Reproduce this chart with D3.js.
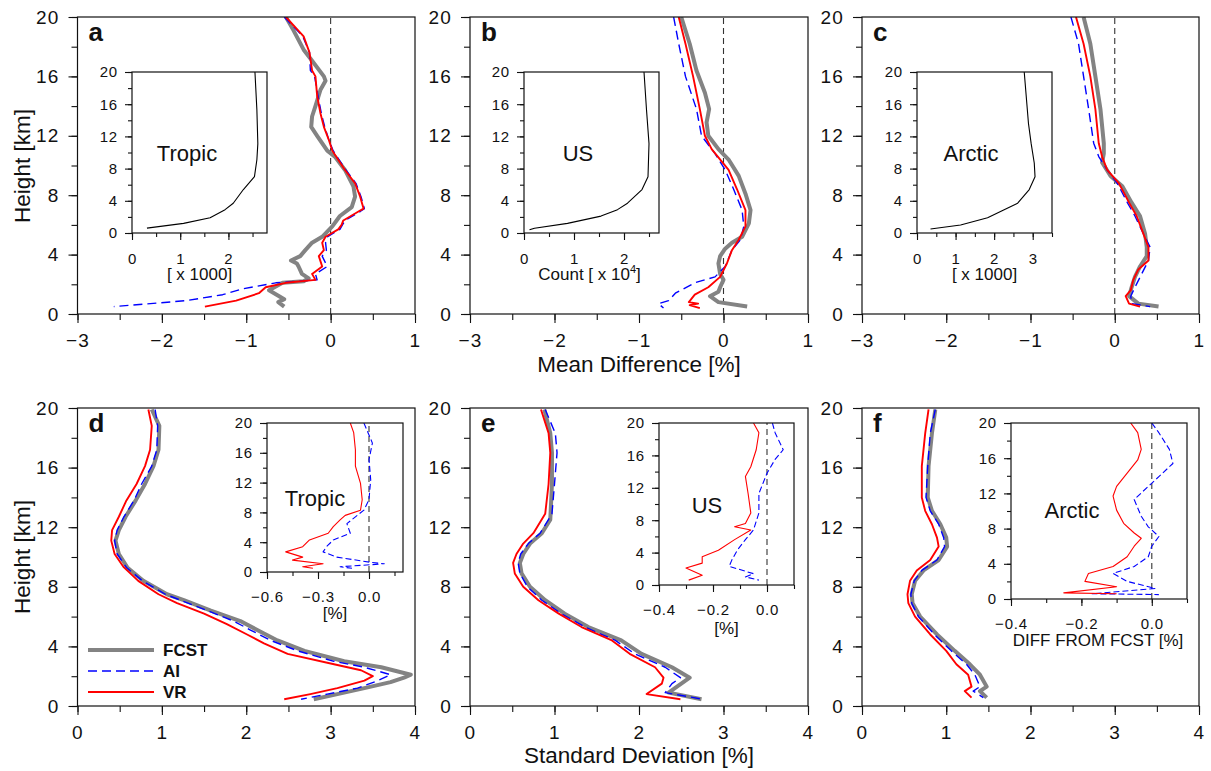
<!DOCTYPE html>
<html><head><meta charset="utf-8">
<script src="https://cdn.jsdelivr.net/npm/d3@7"></script>
<style>body{margin:0;background:#fff}</style>
</head><body><svg id="c" width="1211" height="771"></svg>
<script>
// ---------- DATA: [height km, value] ----------
// Panel a (Tropic, mean difference %)
const aFCST = [[20,-0.53],[19.1,-0.44],[17.8,-0.32],[17.2,-0.24],[16.0,-0.08],[15.7,-0.06],[15.1,-0.12],[14.0,-0.18],[13.3,-0.22],[12.6,-0.23],[12.0,-0.16],[11.0,-0.04],[10.6,0.05],[9.7,0.17],[8.6,0.27],[7.9,0.29],[7.2,0.25],[6.6,0.11],[5.9,0.02],[5.2,-0.10],[4.8,-0.22],[4.3,-0.30],[3.9,-0.36],[3.6,-0.47],[3.4,-0.40],[3.2,-0.38],[2.7,-0.34],[2.4,-0.26],[2.2,-0.32],[2.1,-0.57],[1.6,-0.73],[1.2,-0.61],[1.0,-0.55],[0.8,-0.62],[0.5,-0.55]];
const aAI = [[20,-0.55],[18.7,-0.33],[17.6,-0.25],[16.4,-0.24],[16.0,-0.19],[14.7,-0.15],[13.5,-0.11],[12.6,-0.07],[11.7,-0.02],[11.0,0.03],[9.7,0.18],[8.8,0.30],[7.9,0.36],[7.1,0.40],[6.9,0.35],[6.3,0.17],[6.0,0.14],[5.7,0.11],[5.2,-0.04],[4.8,-0.06],[4.3,-0.05],[3.9,-0.10],[3.2,-0.04],[2.7,-0.18],[2.3,-0.16],[2.1,-0.65],[1.7,-1.04],[1.3,-1.28],[0.9,-1.71],[0.5,-2.57]];
const aVR = [[20,-0.53],[18.7,-0.32],[17.6,-0.25],[16.4,-0.22],[16.0,-0.18],[14.7,-0.16],[13.5,-0.12],[12.6,-0.08],[11.7,-0.02],[11.0,0.02],[9.7,0.17],[8.8,0.29],[7.9,0.35],[7.1,0.39],[6.9,0.33],[6.3,0.15],[6.0,0.13],[5.7,0.09],[5.2,-0.06],[4.8,-0.10],[4.3,-0.08],[3.9,-0.14],[3.2,-0.10],[2.7,-0.22],[2.3,-0.18],[2.1,-0.53],[1.8,-0.77],[1.4,-0.85],[0.9,-1.12],[0.5,-1.49]];
// Panel b (US, mean difference %)
const bFCST = [[20,-0.50],[18.2,-0.40],[16.4,-0.32],[14.9,-0.22],[13.8,-0.17],[12.9,-0.20],[12.0,-0.18],[11.1,-0.06],[10.4,0.06],[9.3,0.18],[8.1,0.26],[7.0,0.32],[6.1,0.30],[5.2,0.22],[4.8,0.10],[4.4,0.02],[3.9,-0.04],[3.4,-0.06],[2.7,-0.04],[2.3,0.0],[1.8,-0.04],[1.5,-0.06],[1.2,-0.16],[0.8,-0.06],[0.5,0.28]];
const bAI = [[20,-0.59],[18.2,-0.53],[16,-0.45],[13.8,-0.32],[12,-0.26],[10.8,-0.10],[9.7,0.02],[8.4,0.12],[7.0,0.22],[5.9,0.24],[5.0,0.20],[4.3,0.10],[3.2,0.02],[2.5,-0.10],[2.1,-0.34],[1.4,-0.57],[0.9,-0.65],[0.7,-0.77],[0.4,-0.71]];
const bVR = [[20,-0.53],[18.2,-0.45],[16,-0.36],[13.8,-0.28],[12,-0.22],[11.1,-0.14],[9.7,0.06],[8.4,0.16],[7.0,0.26],[5.9,0.26],[5.0,0.18],[4.3,0.10],[3.4,0.04],[2.5,-0.04],[1.8,-0.18],[1.3,-0.34],[0.8,-0.41],[0.7,-0.30],[0.6,-0.40],[0.4,-0.28]];
// Panel c (Arctic, mean difference %)
const cFCST = [[20,-0.37],[18.2,-0.29],[16,-0.23],[13.8,-0.17],[11.5,-0.13],[10.8,-0.13],[10.2,-0.15],[9.3,-0.05],[8.6,0.09],[7.5,0.20],[6.6,0.30],[5.4,0.36],[4.5,0.38],[3.9,0.38],[3.2,0.30],[2.5,0.24],[1.8,0.20],[1.2,0.17],[0.7,0.28],[0.5,0.52]];
const cAI = [[20,-0.52],[18.2,-0.43],[16,-0.37],[13.8,-0.31],[11.5,-0.25],[10.6,-0.19],[9.7,-0.09],[8.8,0.03],[7.5,0.15],[6.6,0.24],[5.4,0.34],[4.5,0.42],[3.6,0.40],[2.7,0.32],[1.8,0.24],[1.2,0.19],[0.7,0.20],[0.5,0.42]];
const cVR = [[20,-0.46],[18.2,-0.37],[16,-0.29],[13.8,-0.23],[11.5,-0.19],[10.6,-0.15],[9.7,-0.09],[8.8,0.05],[7.5,0.17],[6.6,0.26],[5.4,0.34],[4.5,0.40],[3.6,0.40],[3.0,0.28],[2.3,0.22],[1.6,0.19],[1.2,0.13],[0.7,0.17],[0.5,0.30]];
// Observation counts (insets a-c)
const aCount = [[20,2.55],[15.3,2.59],[11.1,2.61],[9.1,2.59],[7,2.54],[5.4,2.31],[3.7,2.10],[2.9,1.93],[1.9,1.62],[1.2,1.07],[0.6,0.31]];
const bCount = [[20,2.40],[15.3,2.45],[11.1,2.50],[7,2.48],[5.4,2.36],[3.7,2.07],[2.9,1.87],[2.1,1.54],[1.2,0.87],[0.6,0.21],[0.4,0.11]];
const cCount = [[20,2.78],[13.6,2.89],[11.1,2.96],[8.7,3.04],[7,3.06],[5.4,2.91],[3.7,2.61],[2.9,2.26],[1.9,1.83],[1.0,1.13],[0.5,0.35]];
// Panel d (Tropic, standard deviation %)
const dFCST = [[19.9,0.88],[18.8,0.97],[17.2,0.96],[16.1,0.90],[14.9,0.80],[13.8,0.69],[12.7,0.57],[11.8,0.49],[11.1,0.45],[10.2,0.49],[9.3,0.59],[8.4,0.78],[7.5,1.06],[7.1,1.26],[6.4,1.58],[5.7,1.93],[5.1,2.13],[4.4,2.37],[3.7,2.69],[3.0,3.16],[2.6,3.60],[2.1,3.95],[1.9,3.87],[1.6,3.71],[1.2,3.40],[0.8,3.08],[0.45,2.80]];
const dAI = [[19.9,0.92],[18.8,0.95],[17.2,0.94],[16.1,0.88],[14.9,0.76],[13.8,0.67],[12.7,0.55],[11.8,0.47],[11.1,0.44],[10.2,0.47],[9.3,0.58],[8.4,0.77],[7.5,1.04],[6.4,1.54],[5.7,1.85],[5.1,2.05],[4.4,2.29],[3.7,2.61],[3.0,3.04],[2.6,3.40],[2.1,3.71],[1.7,3.56],[1.2,3.32],[0.8,2.96],[0.45,2.65]];
const dVR = [[19.9,0.84],[18.8,0.88],[17.2,0.86],[16.1,0.80],[14.9,0.70],[13.8,0.58],[12.7,0.49],[11.8,0.41],[11.1,0.40],[10.2,0.44],[9.3,0.55],[8.4,0.72],[7.5,0.96],[6.9,1.18],[6.2,1.50],[5.5,1.77],[4.8,2.01],[4.2,2.21],[3.5,2.49],[2.8,3.04],[2.4,3.36],[2.0,3.50],[1.7,3.40],[1.2,3.08],[0.8,2.76],[0.45,2.45]];
// Panel e (US, standard deviation %)
const eFCST = [[19.9,0.88],[18.3,0.95],[17.0,0.97],[14.9,0.97],[12.5,0.95],[11.6,0.85],[10.9,0.71],[10.2,0.63],[9.6,0.59],[8.9,0.61],[8.0,0.71],[7.1,0.89],[6.2,1.12],[5.3,1.40],[4.4,1.79],[3.5,2.03],[2.6,2.39],[1.9,2.60],[1.5,2.50],[0.9,2.35],[0.45,2.74]];
const eAI = [[19.9,0.89],[18.3,1.01],[17.0,1.03],[14.9,1.00],[12.9,0.97],[11.6,0.83],[10.9,0.69],[10.2,0.60],[9.6,0.57],[8.9,0.59],[8.0,0.68],[7.1,0.85],[6.2,1.08],[5.3,1.36],[4.4,1.72],[3.5,1.95],[2.6,2.31],[1.9,2.49],[1.5,2.39],[0.9,2.31],[0.45,2.76]];
const eVR = [[19.9,0.84],[18.3,0.93],[17.0,0.95],[14.9,0.93],[12.9,0.89],[11.6,0.75],[10.9,0.63],[10.2,0.55],[9.6,0.51],[8.9,0.53],[8.0,0.63],[7.1,0.81],[6.2,1.05],[5.3,1.32],[4.4,1.68],[3.5,1.89],[2.6,2.19],[1.9,2.29],[1.5,2.27],[0.8,2.09],[0.45,2.49]];
// Panel f (Arctic, standard deviation %)
const fFCST = [[19.9,0.87],[18.3,0.83],[16.1,0.79],[14.0,0.78],[13.1,0.83],[12.2,0.93],[11.3,1.00],[10.7,1.01],[9.8,0.91],[9.1,0.73],[8.4,0.63],[7.5,0.59],[6.9,0.60],[6.0,0.69],[4.8,0.89],[3.7,1.10],[2.8,1.28],[2.1,1.40],[1.3,1.48],[1.0,1.40],[0.56,1.48]];
const fAI = [[19.9,0.87],[18.3,0.81],[16.1,0.78],[14.0,0.76],[13.1,0.81],[12.2,0.91],[11.3,0.97],[10.7,0.98],[9.8,0.89],[9.1,0.71],[8.4,0.62],[7.5,0.58],[6.9,0.59],[6.0,0.67],[4.8,0.86],[3.7,1.06],[2.8,1.24],[2.1,1.34],[1.3,1.40],[1.0,1.32],[0.56,1.44]];
const fVR = [[19.9,0.79],[18.3,0.75],[16.1,0.71],[14.0,0.71],[13.1,0.75],[12.2,0.83],[11.3,0.89],[10.7,0.91],[9.8,0.81],[9.1,0.65],[8.4,0.57],[7.5,0.54],[6.9,0.55],[6.0,0.63],[4.8,0.81],[3.7,1.00],[2.8,1.12],[2.1,1.26],[1.3,1.30],[1.0,1.22],[0.56,1.30]];
// Std-dev difference from FCST (insets d-f)
const dDiffVR = [[20,-0.11],[18.7,-0.09],[16.4,-0.08],[14.2,-0.08],[11.9,-0.05],[9.7,-0.04],[8.3,-0.05],[7.6,-0.14],[7.0,-0.17],[6.1,-0.21],[5.2,-0.24],[4.3,-0.35],[3.4,-0.39],[2.7,-0.49],[2.0,-0.39],[1.6,-0.45],[1.1,-0.27],[0.7,-0.39],[0.5,-0.33]];
const dDiffAI = [[20,-0.03],[17.3,0.02],[15.1,0.0],[12.4,0.01],[9.7,0.0],[8.3,-0.03],[7.4,-0.08],[6.5,-0.13],[5.2,-0.11],[4.3,-0.21],[3.4,-0.25],[2.7,-0.27],[2.0,-0.19],[1.3,0.01],[1.1,0.09],[0.7,-0.17],[0.5,-0.10]];
const eDiffVR = [[20,-0.05],[18.8,-0.03],[16.7,-0.04],[14.6,-0.06],[13.4,-0.08],[11.3,-0.07],[8.9,-0.06],[7.6,-0.08],[7.2,-0.12],[6.8,-0.06],[5.6,-0.12],[4.3,-0.18],[3.5,-0.24],[2.7,-0.24],[2.1,-0.30],[1.2,-0.24],[0.6,-0.29]];
const eDiffAI = [[20,0.02],[18.8,0.03],[16.7,0.06],[15.5,0.03],[13.8,0.0],[11.3,-0.03],[8.9,-0.03],[6.8,-0.05],[5.6,-0.08],[4.3,-0.11],[3.1,-0.13],[2.3,-0.14],[1.4,-0.05],[1.0,-0.08],[0.6,-0.03]];
const fDiffVR = [[20,-0.06],[18.9,-0.04],[17,-0.03],[15.8,-0.04],[14.3,-0.07],[12.8,-0.10],[11.7,-0.11],[10.1,-0.10],[8.6,-0.08],[7.5,-0.05],[6.9,-0.03],[6.0,-0.05],[4.8,-0.07],[3.7,-0.11],[2.9,-0.18],[2.0,-0.19],[1.4,-0.10],[0.7,-0.25],[0.6,-0.10]];
const fDiffAI = [[20,0.0],[18.9,0.02],[17,0.05],[15.4,0.06],[13.9,0.02],[12.8,-0.01],[11.3,-0.05],[9.4,-0.03],[8.2,-0.01],[7.1,0.02],[6.0,0.0],[4.8,-0.01],[3.7,-0.05],[2.9,-0.11],[2.0,-0.07],[1.2,0.01],[0.6,-0.17],[0.5,0.02]];
// Labels / ticks
const panelLetters = ["a","b","c","d","e","f"];
const regions = ["Tropic","US","Arctic"];
const legendNames = ["FCST","AI","VR"];
const hTicksMajor = [0,4,8,12,16,20];
const meanTicks = [-3,-2,-1,0,1];
const sdTicks = [0,1,2,3,4];

// ---------- DRAWING ----------
const F = '"Liberation Sans", Arial, Helvetica, sans-serif';
const svg = d3.select("#c");
const styles = {
  FCST:{stroke:"#838383", w:4, dash:null},
  AI:{stroke:"#0000ff", w:1.4, dash:"9,5"},
  VR:{stroke:"#ff0000", w:1.9, dash:null}
};
let clipId = 0;

function axes(g, x, y, o){
  const [x0,x1] = x.range(), [y1,y0] = y.range();
  const strip = s => s.select(".domain").remove();
  const fix = s => s.attr("font-family", F).attr("font-size", o.fs).attr("letter-spacing", o.ls);
  g.append("g").attr("transform",`translate(0,${y1})`)
    .call(d3.axisBottom(x).tickValues(o.xMinor).tickSize(o.tMin).tickFormat("")).call(strip);
  g.append("g").attr("transform",`translate(0,${y1})`)
    .call(d3.axisBottom(x).tickValues(o.xMajor).tickSize(o.tMaj).tickPadding(o.xpad).tickFormat(o.fmtX)).call(strip).call(fix);
  g.append("g").attr("transform",`translate(${x0},0)`)
    .call(d3.axisLeft(y).tickValues(d3.range(0,20.01,2)).tickSize(o.tMin).tickFormat("")).call(strip);
  g.append("g").attr("transform",`translate(${x0},0)`)
    .call(d3.axisLeft(y).tickValues(hTicksMajor).tickSize(o.tMaj).tickPadding(o.ypad).tickFormat(d3.format("d"))).call(strip).call(fix);
  g.selectAll(".tick line").attr("stroke","#111").attr("stroke-width",1.1);
  g.selectAll(".tick text").attr("fill","#111");
  g.append("rect").attr("x",x0).attr("y",y0).attr("width",x1-x0).attr("height",y1-y0)
    .attr("fill","none").attr("stroke","#111").attr("stroke-width",1.2);
}

function clipFor(g, x, y){
  const id = "clip"+(clipId++);
  const [x0,x1] = x.range(), [y1,y0] = y.range();
  g.append("clipPath").attr("id",id).append("rect").attr("x",x0).attr("y",y0).attr("width",x1-x0).attr("height",y1-y0);
  return g.append("g").attr("clip-path",`url(#${id})`);
}

function drawSeries(layer, x, y, data, st){
  const line = d3.line().x(d=>x(d[1])).y(d=>y(d[0]));
  layer.append("path").datum(data).attr("d",line).attr("fill","none")
    .attr("stroke",st.stroke).attr("stroke-width",st.w).attr("stroke-linejoin","round")
    .attr("stroke-dasharray",st.dash);
}

function zeroLine(layer, x, y){
  layer.append("line").attr("x1",x(0)).attr("x2",x(0)).attr("y1",y(0)).attr("y2",y(20))
    .attr("stroke","#333").attr("stroke-width",1.1).attr("stroke-dasharray","6,4");
}

const mainPanels = [
  {x:[77.5,415], y:[17,314], dom:[-3,1], ticks:meanTicks, s:[aFCST,aAI,aVR], zero:true},
  {x:[470,808], y:[17,314], dom:[-3,1], ticks:meanTicks, s:[bFCST,bAI,bVR], zero:true},
  {x:[862,1199], y:[17,314], dom:[-3,1], ticks:meanTicks, s:[cFCST,cAI,cVR], zero:true},
  {x:[77.5,415], y:[408,706], dom:[0,4], ticks:sdTicks, s:[dFCST,dAI,dVR], zero:false},
  {x:[470,808], y:[408,706], dom:[0,4], ticks:sdTicks, s:[eFCST,eAI,eVR], zero:false},
  {x:[862,1199], y:[408,706], dom:[0,4], ticks:sdTicks, s:[fFCST,fAI,fVR], zero:false}
];

mainPanels.forEach((p,i)=>{
  const g = svg.append("g");
  const x = d3.scaleLinear().domain(p.dom).range(p.x);
  const y = d3.scaleLinear().domain([0,20]).range([p.y[1],p.y[0]]);
  const layer = clipFor(g,x,y);
  if(p.zero) zeroLine(layer,x,y);
  legendNames.forEach((n,k)=>drawSeries(layer,x,y,p.s[k],styles[n]));
  axes(g,x,y,{xMinor:d3.range(p.dom[0],p.dom[1]+0.01,0.5), xMajor:p.ticks, tMaj:9, tMin:6, xpad:11, ypad:9, fs:19, ls:1.2, fmtX:d3.format("d")});
  g.append("text").attr("x",p.x[0]+11).attr("y",p.y[0]+24).text(panelLetters[i])
    .attr("font-family",F).attr("font-weight","bold").attr("font-size",26).attr("fill","#111");
});

// Insets, top row: counts
const countInsets = [
  {x:[132,267], y:[72,233], dom:[0,2.8], maj:[0,1,2], s:aCount, lab:"[ x 1000]", reg:[187,161]},
  {x:[524,659], y:[72,233], dom:[0,2.7], maj:[0,1,2], s:bCount, lab:"Count [ x 10", sup:"4", reg:[578,161]},
  {x:[917,1052], y:[72,233], dom:[0,3.5], maj:[0,1,2,3], s:cCount, lab:"[ x 1000]", reg:[971,161]}
];
countInsets.forEach((p,i)=>{
  const g = svg.append("g");
  const x = d3.scaleLinear().domain(p.dom).range(p.x);
  const y = d3.scaleLinear().domain([0,20]).range([p.y[1],p.y[0]]);
  g.append("rect").attr("x",p.x[0]).attr("y",p.y[0]).attr("width",p.x[1]-p.x[0]).attr("height",p.y[1]-p.y[0]).attr("fill","#fff");
  const layer = clipFor(g,x,y);
  drawSeries(layer,x,y,p.s,{stroke:"#000",w:1.1,dash:null});
  axes(g,x,y,{xMinor:d3.range(0,p.dom[1]+0.01,0.5), xMajor:p.maj, tMaj:7, tMin:4, xpad:13, ypad:7, fs:15, ls:0.8, fmtX:d3.format("d")});
  const t = g.append("text").attr("x",(p.x[0]+p.x[1])/2+ (i===1?-2:0)).attr("y",280).attr("text-anchor","middle")
    .attr("font-family",F).attr("font-size",17).attr("fill","#111").text(p.lab);
  if(p.sup){ t.append("tspan").attr("dy",-7).attr("font-size",11).text(p.sup); t.append("tspan").attr("dy",7).text("]"); }
  g.append("text").attr("x",p.reg[0]).attr("y",p.reg[1]).attr("text-anchor","middle")
    .attr("font-family",F).attr("font-size",22).attr("fill","#111").text(regions[i]);
});

// Insets, bottom row: difference from FCST
const diffInsets = [
  {x:[267,403], y:[423,572], dom:[-0.6,0.2], minor:[-0.6,-0.45,-0.3,-0.15,0,0.15], maj:[-0.6,-0.3,0], s:[dDiffAI,dDiffVR], lab:"[%]", labY:619, reg:[315,506]},
  {x:[659,794], y:[423,585], dom:[-0.4,0.1], minor:[-0.4,-0.3,-0.2,-0.1,0,0.1], maj:[-0.4,-0.2,0], s:[eDiffAI,eDiffVR], lab:"[%]", labY:634, reg:[707,513]},
  {x:[1011,1187], y:[423,599], dom:[-0.4,0.1], minor:[-0.4,-0.3,-0.2,-0.1,0,0.1], maj:[-0.4,-0.2,0], s:[fDiffAI,fDiffVR], lab:"DIFF FROM FCST [%]", labY:646, reg:[1072,518]}
];
diffInsets.forEach((p,i)=>{
  const g = svg.append("g");
  const x = d3.scaleLinear().domain(p.dom).range(p.x);
  const y = d3.scaleLinear().domain([0,20]).range([p.y[1],p.y[0]]);
  g.append("rect").attr("x",p.x[0]).attr("y",p.y[0]).attr("width",p.x[1]-p.x[0]).attr("height",p.y[1]-p.y[0]).attr("fill","#fff");
  const layer = clipFor(g,x,y);
  zeroLine(layer,x,y);
  drawSeries(layer,x,y,p.s[0],{stroke:"#0000ff",w:1.1,dash:"6,3"});
  drawSeries(layer,x,y,p.s[1],{stroke:"#ff0000",w:1.1,dash:null});
  axes(g,x,y,{xMinor:p.minor, xMajor:p.maj, tMaj:7, tMin:4, xpad:12, ypad:7, fs:15, ls:0.8, fmtX:d3.format(".1f")});
  g.append("text").attr("x",(p.x[0]+p.x[1])/2 + (i===2?-1:0)).attr("y",p.labY).attr("text-anchor","middle")
    .attr("font-family",F).attr("font-size",17).attr("fill","#111").text(p.lab);
  g.append("text").attr("x",p.reg[0]).attr("y",p.reg[1]).attr("text-anchor","middle")
    .attr("font-family",F).attr("font-size",22).attr("fill","#111").text(regions[i]);
});

// Axis titles
const titleStyle = s => s.attr("font-family",F).attr("font-size",22.5).attr("fill","#111").attr("text-anchor","middle");
svg.append("text").attr("transform","translate(30,166) rotate(-90)").text("Height [km]").call(titleStyle);
svg.append("text").attr("transform","translate(30,557) rotate(-90)").text("Height [km]").call(titleStyle);
svg.append("text").attr("x",639).attr("y",372).text("Mean Difference [%]").call(titleStyle);
svg.append("text").attr("x",639).attr("y",763).text("Standard Deviation [%]").call(titleStyle);

// Legend in panel d
const lg = svg.append("g");
const legY = [650,671,692];
legendNames.forEach((n,k)=>{
  const st = styles[n];
  lg.append("line").attr("x1",88).attr("x2",154).attr("y1",legY[k]).attr("y2",legY[k])
    .attr("stroke",st.stroke).attr("stroke-width",st.w).attr("stroke-dasharray",st.dash);
  lg.append("text").attr("x",163).attr("y",legY[k]+6).text(n)
    .attr("font-family",F).attr("font-weight","bold").attr("font-size",17).attr("fill","#111");
});
</script>
</body></html>
